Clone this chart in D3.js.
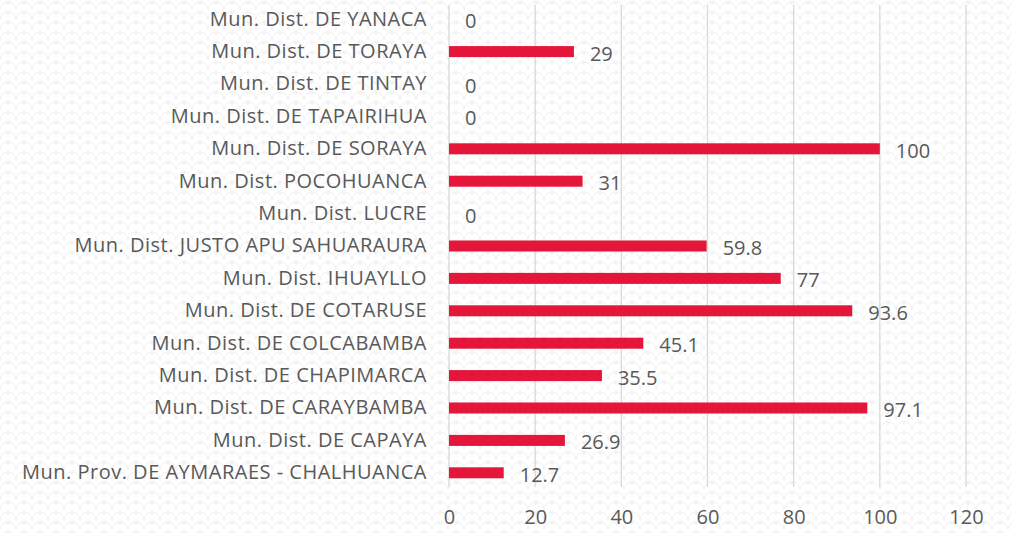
<!DOCTYPE html>
<html>
<head>
<meta charset="utf-8">
<script src="https://cdn.jsdelivr.net/npm/d3@7.9.0/dist/d3.min.js"></script>
<style>
  html, body { margin: 0; padding: 0; background: #fff; }
  svg { display: block; font-family: "Open Sans", sans-serif; }
</style>
</head>
<body>
<div id="chart"></div>
<script>
const categories = [
  'Mun. Dist. DE YANACA',
  'Mun. Dist. DE TORAYA',
  'Mun. Dist. DE TINTAY',
  'Mun. Dist. DE TAPAIRIHUA',
  'Mun. Dist. DE SORAYA',
  'Mun. Dist. POCOHUANCA',
  'Mun. Dist. LUCRE',
  'Mun. Dist. JUSTO APU SAHUARAURA',
  'Mun. Dist. IHUAYLLO',
  'Mun. Dist. DE COTARUSE',
  'Mun. Dist. DE COLCABAMBA',
  'Mun. Dist. DE CHAPIMARCA',
  'Mun. Dist. DE CARAYBAMBA',
  'Mun. Dist. DE CAPAYA',
  'Mun. Prov. DE AYMARAES - CHALHUANCA'
];
const values = [0, 29, 0, 0, 100, 31, 0, 59.8, 77, 93.6, 45.1, 35.5, 97.1, 26.9, 12.7];
const xTicks = [0, 20, 40, 60, 80, 100, 120];

const width = 1012;
const height = 533;
const margin = { top: 3, right: 46, bottom: 46, left: 449 };

const svg = d3.select('#chart')
  .append('svg')
  .attr('width', width)
  .attr('height', height);

// faint scale pattern in the background
const pat = svg.append('defs').append('pattern')
  .attr('id', 'scales')
  .attr('patternUnits', 'userSpaceOnUse')
  .attr('width', 16)
  .attr('height', 10);
pat.append('path')
  .attr('d', 'M0,10 A8,8 0 0 1 16,10 M-8,5 A8,8 0 0 1 8,5 M8,5 A8,8 0 0 1 24,5')
  .attr('fill', 'none')
  .attr('stroke', '#f0f0f0')
  .attr('stroke-width', 1);
svg.append('rect')
  .attr('width', width)
  .attr('height', height)
  .attr('fill', 'url(#scales)');

const x = d3.scaleLinear()
  .domain([0, 120])
  .range([margin.left, width - margin.right]);

const y = d3.scaleBand()
  .domain(categories)
  .range([margin.top, height - margin.bottom + 2])
  .paddingInner(0.66)
  .paddingOuter(0.33);

// gridlines
svg.append('g')
  .selectAll('line')
  .data(xTicks)
  .join('line')
  .attr('x1', (d) => x(d))
  .attr('x2', (d) => x(d))
  .attr('y1', 5)
  .attr('y2', 487)
  .attr('stroke', '#d9d9d9')
  .attr('stroke-width', 1.3);

// x axis labels
const xAxis = d3.axisBottom(x).tickValues(xTicks).tickSize(0).tickPadding(0);
svg.append('g')
  .attr('transform', 'translate(0, 510)')
  .call(xAxis)
  .call((g) => g.select('.domain').remove())
  .call((g) => g.selectAll('text')
    .attr('fill', '#595959')
    .attr('font-size', 20)
    .attr('font-family', '"Open Sans", sans-serif'));

// y axis labels
const yAxis = d3.axisLeft(y).tickSize(0).tickPadding(22);
svg.append('g')
  .attr('transform', `translate(${margin.left}, 0)`)
  .call(yAxis)
  .call((g) => g.select('.domain').remove())
  .call((g) => g.selectAll('text')
    .attr('fill', '#595959')
    .attr('font-size', 20)
    .attr('letter-spacing', 0.5)
    .attr('font-family', '"Open Sans", sans-serif'));

// bars
const rows = categories.map((c, i) => ({ name: c, value: values[i] }));
svg.append('g')
  .selectAll('rect')
  .data(rows)
  .join('rect')
  .attr('x', x(0))
  .attr('y', (d) => y(d.name))
  .attr('width', (d) => x(d.value) - x(0))
  .attr('height', y.bandwidth())
  .attr('fill', '#e4173a');

// value labels
svg.append('g')
  .selectAll('text')
  .data(rows)
  .join('text')
  .attr('x', (d) => x(d.value) + 16)
  .attr('y', (d) => y(d.name) + y.bandwidth() / 2 + 2)
  .attr('dy', '0.35em')
  .attr('fill', '#595959')
  .attr('font-size', 20)
  .text((d) => d.value);
</script>
</body>
</html>
